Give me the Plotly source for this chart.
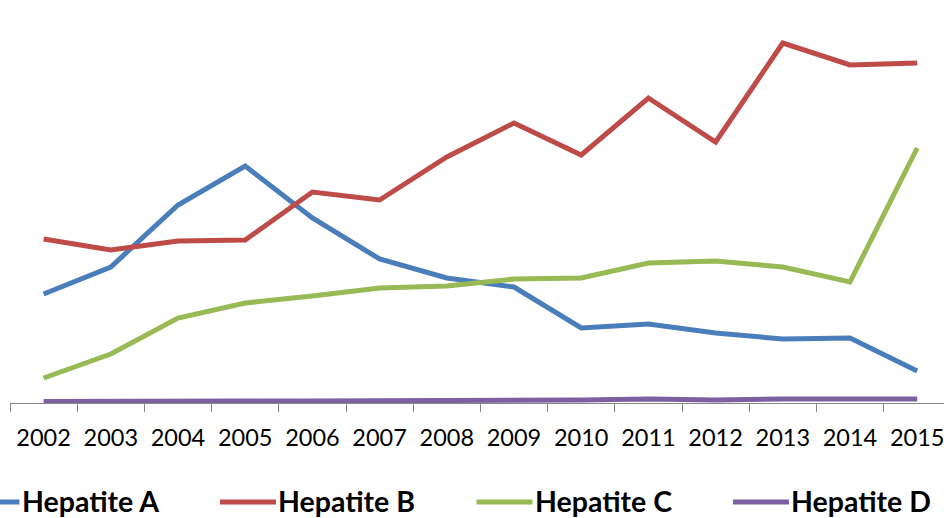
import plotly.graph_objects as go

years = ["2002", "2003", "2004", "2005", "2006", "2007", "2008",
         "2009", "2010", "2011", "2012", "2013", "2014", "2015"]

hep_a = [109, 136, 198, 237, 185, 144, 125, 116, 75, 79, 70, 64, 65, 32]
hep_b = [164, 153, 162, 163, 211, 203, 246, 280, 248, 305, 261, 360, 338, 340]
hep_c = [25, 49, 85, 100, 107, 115, 117, 124, 125, 140, 142, 136, 121, 255]
hep_d = [1.5, 2, 2, 2, 2, 2, 2.5, 3, 3, 4, 3, 4, 4, 4]

series_names = ["Hepatite A", "Hepatite B", "Hepatite C", "Hepatite D"]
series_values = [hep_a, hep_b, hep_c, hep_d]
colors = ["#4A7EBB", "#BE4B48", "#98B954", "#7D60A0"]

W, H = 944, 518
L, R, T, B = 10, 0, 0, 115
PW, PH = W - L - R, H - T - B

fig = go.Figure()
for name, vals, col in zip(series_names, series_values, colors):
    fig.add_trace(go.Scatter(
        x=years, y=vals, name=name, mode="lines",
        line=dict(color=col, width=5), showlegend=False,
    ))

# custom legend (Excel style: long line sample + bold label)
def px2paper_x(px):
    return (px - L) / PW

def px2paper_y(py):
    return (H - B - py) / PH

shapes, annotations = [], []
leg_y = 501
for i, (name, col) in enumerate(zip(series_names, colors)):
    x0 = -36.5 + 256.5 * i
    shapes.append(dict(type="line", xref="paper", yref="paper",
                       x0=px2paper_x(x0), x1=px2paper_x(x0 + 56),
                       y0=px2paper_y(leg_y + 1), y1=px2paper_y(leg_y + 1),
                       line=dict(color=col, width=5)))
    annotations.append(dict(text="<b>%s</b>" % name, xref="paper", yref="paper",
                            x=px2paper_x(x0 + 57), y=px2paper_y(leg_y),
                            xanchor="left", yanchor="middle", showarrow=False,
                            borderpad=0,
                            font=dict(family="Lato", size=28.5, color="black")))

span = 13.5 - (L + 14 * 67.2 - W) / 67.2
fig.update_layout(
    width=W, height=H,
    margin=dict(l=L, r=R, t=T, b=B),
    paper_bgcolor="white", plot_bgcolor="white",
    font=dict(family="Lato", color="black"),
    shapes=shapes, annotations=annotations,
    xaxis=dict(type="category", range=[-0.5, span],
               showline=True, linecolor="#868686", linewidth=1.3,
               ticks="outside", tickson="boundaries", ticklen=8,
               tickcolor="#868686", tickwidth=1.3,
               showgrid=False, zeroline=False,
               tickfont=dict(family="Lato", size=23.5, color="black"),
               ticklabelstandoff=14),
    yaxis=dict(range=[0, 403], visible=False, showgrid=False, zeroline=False),
)

fig.write_html("out.html",
               config={"displayModeBar": False},
               post_script="document.body.style.margin='0';document.body.style.overflow='hidden';")
